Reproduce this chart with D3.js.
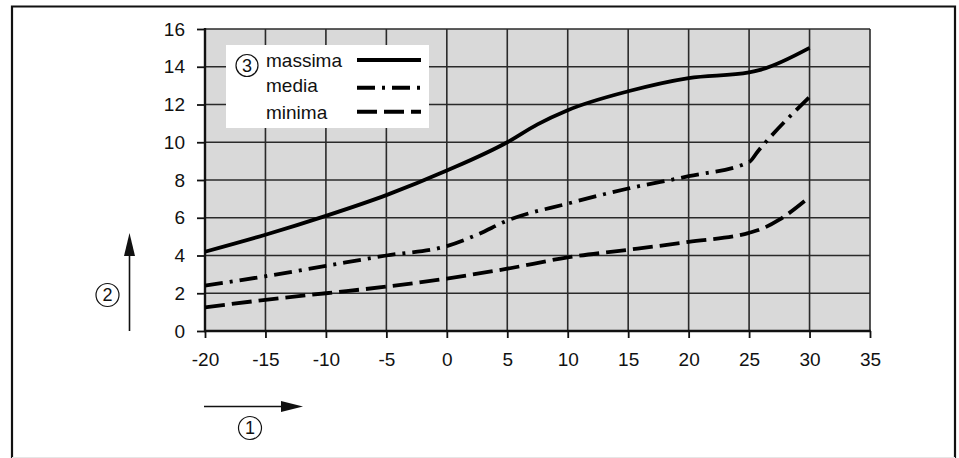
<!DOCTYPE html>
<html><head><meta charset="utf-8">
<script src="https://cdn.jsdelivr.net/npm/d3@7"></script>
<style>body{margin:0;background:#fff}svg{display:block}text{font-family:"Liberation Sans",Arial,sans-serif;fill:#111}</style>
</head><body>
<svg id="c" width="959" height="458"></svg>
<script>
const xTicks = [-20,-15,-10,-5,0,5,10,15,20,25,30,35];
const yTicks = [0,2,4,6,8,10,12,14,16];
const seriesNames = ["massima","media","minima"];
const massimaX = [-20,-15,-10,-5,0,5,7.5,10,15,20,25,26,30];
const massimaY = [4.2,5.1,6.1,7.2,8.5,10.0,10.95,11.7,12.7,13.4,13.7,13.85,15.0];
const mediaX = [-20,-15,-10,-5,0,2.5,5,10,15,20,25,25.7,30];
const mediaY = [2.4,2.9,3.45,4.0,4.5,5.1,5.85,6.75,7.55,8.2,8.95,9.5,12.4];
const minimaX = [-20,-15,-10,-5,0,5,10,15,20,25,26,27.5,30];
const minimaY = [1.25,1.65,2.0,2.35,2.78,3.3,3.9,4.3,4.72,5.2,5.4,5.9,7.1];
const circleLabels = ["1","2","3"];

const FS = 19;
const svg = d3.select("#c");
const x = d3.scaleLinear().domain([-20,35]).range([205,870]);
const y = d3.scaleLinear().domain([0,16]).range([331,29]);

// outer frame (open at bottom)
svg.append("path").attr("d","M12,458 V6.5 H955 V458").attr("fill","none").attr("stroke","#111").attr("stroke-width",2.2);
svg.append("line").attr("x1",12).attr("x2",955).attr("y1",457.5).attr("y2",457.5).attr("stroke","#e6e6e6").attr("stroke-width",1);

// plot background
svg.append("rect").attr("x",x(-20)).attr("y",y(16)).attr("width",x(35)-x(-20)).attr("height",y(0)-y(16)).attr("fill","#d9d9d9");

// grid
const g = svg.append("g");
g.selectAll("line.v").data(xTicks.slice(1)).join("line")
  .attr("x1",d=>x(d)).attr("x2",d=>x(d)).attr("y1",y(16)).attr("y2",y(0))
  .attr("stroke","#2a2a2a").attr("stroke-width",1.6);
g.selectAll("line.h").data(yTicks.slice(1)).join("line")
  .attr("x1",x(-20)).attr("x2",x(35)).attr("y1",d=>y(d)).attr("y2",d=>y(d))
  .attr("stroke","#2a2a2a").attr("stroke-width",1.6);

// axes
const xAxis = svg.append("g").attr("transform",`translate(0,${y(0)})`)
  .call(d3.axisBottom(x).tickValues(xTicks).tickSize(7).tickPadding(14.5).tickFormat(d3.format("d")));
const yAxis = svg.append("g").attr("transform",`translate(${x(-20)},0)`)
  .call(d3.axisLeft(y).tickValues(yTicks).tickSize(8).tickPadding(12));
[xAxis,yAxis].forEach(a=>{
  a.attr("font-size",null).attr("font-family",null);
  a.select(".domain").remove();
  a.selectAll(".tick line").attr("stroke","#111").attr("stroke-width",1.8);
  a.selectAll(".tick text").style("font-size",FS+"px").attr("fill","#111")
   .style("font-family","'Liberation Sans',Arial,sans-serif");
});
xAxis.selectAll(".tick text").text(d=>d<0?"-"+Math.abs(d):d);
svg.append("line").attr("x1",x(-20)).attr("x2",x(-20)).attr("y1",y(16)-1).attr("y2",y(0)+1).attr("stroke","#111").attr("stroke-width",2.4);
svg.append("line").attr("x1",x(-20)-1).attr("x2",x(35)+0.8).attr("y1",y(0)).attr("y2",y(0)).attr("stroke","#111").attr("stroke-width",2.4);

// curves
const line = d3.line().x(d=>x(d[0])).y(d=>y(d[1])).curve(d3.curveMonotoneX);
const series = [
  {name:seriesNames[0], data:d3.zip(massimaX,massimaY), dash:null},
  {name:seriesNames[1], data:d3.zip(mediaX,mediaY), dash:"18,7,3,7"},
  {name:seriesNames[2], data:d3.zip(minimaX,minimaY), dash:"20,7"}
];
series.forEach(s=>{
  svg.append("path").attr("d",line(s.data)).attr("fill","none").attr("stroke","#000")
    .attr("stroke-width",3.8).attr("stroke-dasharray",s.dash);
});

// legend
svg.append("rect").attr("x",226).attr("y",45).attr("width",203).attr("height",83).attr("fill","#fff");
const ly = [66.7,92,119];
const lineY = [60,87.7,111.7];
series.forEach((s,i)=>{
  svg.append("text").attr("x",266).attr("y",ly[i]).style("font-size",FS+"px").text(s.name);
  svg.append("line").attr("x1",357).attr("x2",421).attr("y1",lineY[i]).attr("y2",lineY[i])
    .attr("stroke","#000").attr("stroke-width",4).attr("stroke-dasharray",s.dash);
});

// circled labels
function circ(cx,cy,r,t){
  svg.append("circle").attr("cx",cx).attr("cy",cy).attr("r",r).attr("fill","none").attr("stroke","#111").attr("stroke-width",1.2);
  svg.append("text").attr("x",cx).attr("y",cy+6.3).attr("text-anchor","middle").style("font-size","18px").text(t);
}
circ(247,65.5,11,circleLabels[2]);
circ(107.5,295,11.5,circleLabels[1]);
circ(250,428,11.5,circleLabels[0]);

// arrows
svg.append("line").attr("x1",129.5).attr("x2",129.5).attr("y1",331).attr("y2",250).attr("stroke","#111").attr("stroke-width",1.6);
svg.append("path").attr("d","M129.5,233 L124,256 L135,256 Z").attr("fill","#111");
svg.append("line").attr("x1",204).attr("x2",285).attr("y1",406.5).attr("y2",406.5).attr("stroke","#111").attr("stroke-width",1.6);
svg.append("path").attr("d","M303,406.5 L281,401 L281,412 Z").attr("fill","#111");
</script>
</body></html>
